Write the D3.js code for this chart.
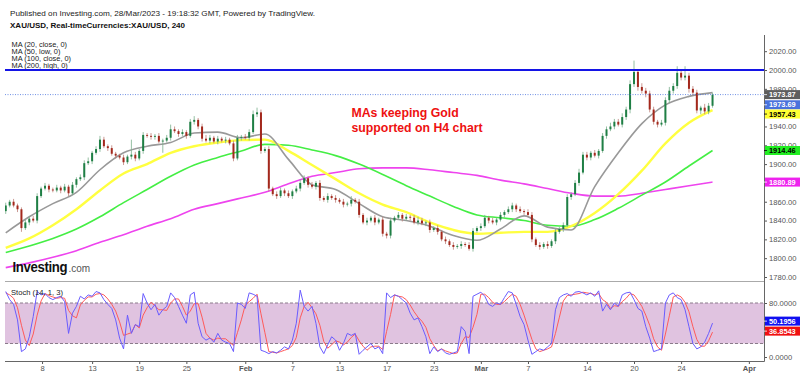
<!DOCTYPE html>
<html><head><meta charset="utf-8">
<script src="https://cdn.jsdelivr.net/npm/d3@7"></script>
<style>body{margin:0;background:#fff}svg{display:block;font-family:"Liberation Sans",Arial,sans-serif}</style>
</head><body><svg id="c" width="800" height="376"></svg>
<script>
// ---------------- DATA ----------------
const firstOpen = 1850;
const closes = [
1856,1860,1856,1852,1832,1838,1842,1840,1866,1874,
1877,1873,1872,1875,1872,1876,1869,1878,1884,1886,
1901,1903,1912,1916,1926,1919,1917,1911,1909,1907,
1902,1908,1910,1906,1914,1931,1930,1929,1930,1924,
1925,1928,1937,1935,1932,1934,1930,1945,1947,1940,
1927,1925,1928,1924,1927,1925,1926,1922,1906,1928,
1929,1928,1934,1953,1955,1914,1916,1874,1868,1866,
1872,1869,1866,1871,1874,1880,1885,1878,1876,1880,
1864,1862,1866,1864,1862,1860,1857,1858,1862,1860,
1846,1838,1840,1843,1838,1841,1826,1824,1840,1843,
1846,1842,1844,1843,1838,1840,1837,1838,1830,1832,
1828,1820,1818,1814,1812,1813,1815,1814,1810,1829,
1832,1834,1843,1840,1838,1841,1846,1849,1852,1856,
1852,1850,1849,1846,1820,1814,1812,1815,1813,1818,
1828,1831,1835,1865,1868,1880,1891,1910,1907,1912,
1909,1914,1930,1937,1940,1945,1942,1950,1958,1985,
1998,1982,1978,1975,1958,1945,1942,1944,1968,1978,
1983,1997,1992,1994,1980,1976,1957,1960,1956,1962,
1973.87];
const hiExt = [
3,2,3,2,2,3,2,3,3,2, 3,2,2,3,2,3,2,3,2,3, 3,4,2,3,4,3,2,3,2,2, 3,2,16,3,2,3,2,3,2,3,
2,3,5,3,2,3,2,3,4,2, 3,4,3,2,3,2,3,2,3,3, 2,3,3,4,5,3,2,3,2,3, 3,2,3,2,3,4,3,2,3,2,
3,2,3,2,3,2,3,2,4,2, 3,2,3,2,3,2,3,2,3,2, 3,2,3,2,3,4,3,2,3,2, 3,2,3,2,3,2,3,2,3,3,
2,3,3,2,3,2,3,2,3,3, 2,3,2,3,3,2,3,2,3,2, 3,2,3,3,2,3,4,3,3,2, 3,2,3,3,4,3,3,4,3,4,
12,3,4,3,3,3,2,3,3,4, 3,7,3,10,3,3,3,2,4,3, 2];
const loExt = [
3,2,2,3,4,2,3,2,3,2, 2,3,2,2,3,2,3,2,3,2, 3,2,3,2,3,2,3,2,3,2, 3,2,3,3,2,3,2,3,3,2,
12,2,3,2,3,2,3,2,3,3, 3,2,3,2,3,2,3,2,3,2, 3,2,3,2,3,3,2,3,2,3, 2,3,2,3,2,3,2,3,2,3,
3,2,3,2,3,2,3,2,3,2, 3,2,3,2,3,2,3,3,3,2, 2,3,2,3,2,3,2,3,3,2, 3,2,3,2,3,2,3,2,2,3,
2,3,2,3,2,3,2,3,2,3, 3,2,3,2,3,2,3,2,3,2, 3,2,3,2,3,2,3,2,3,3, 2,3,2,3,2,3,2,3,3,4,
3,4,3,4,3,3,3,2,3,3, 3,3,3,3,4,3,3,4,3,3, 2];
// moving averages, one value every 6 bars
const ma20 = [1827,1844,1858,1870,1894,1912,1919,1923,1933,1934,1928,1932,1905,1878,1873,1858,1844,1840,1834,1824,1819,1831,1845,1833,1830,1876,1912,1943,1963,1972,1976];
const ma50 = [1811,1821,1835,1852,1872,1890,1900,1912,1919,1923,1925.5,1926,1914,1899,1884,1869,1857,1849,1838,1830,1826,1827,1828,1828,1834,1848,1868,1893,1922,1944,1957.43];
const ma100 = [1806,1813,1821,1831,1844,1859,1873,1887,1899,1907,1914,1921,1920,1915,1909,1900,1889,1877,1866,1855,1846,1843,1840,1835,1834,1841,1853,1867,1881,1898,1914.46];
const ma200 = [1790,1795,1801,1808,1817,1825,1834,1842,1852,1858,1864,1870,1879,1887,1891,1895,1896,1896,1894,1891,1888,1883,1879,1874,1869,1866,1866,1869,1873,1877,1880.89];
const stochK = [
97,85,78,55,8,12,30,60,97,92, 94,88,85,88,90,82,35,65,75,90, 86,92,90,97,95,85,78,72,55,28,
12,62,35,48,45,94,80,70,78,62, 70,75,95,88,75,62,50,92,96,50, 30,25,28,22,35,25,22,20,8,80,
78,72,95,93,90,10,8,5,8,6, 10,15,12,25,50,99,75,68,75,50, 15,5,18,30,25,10,20,35,32,35,
4,10,15,20,12,15,5,95,88,92, 90,85,80,65,55,58,45,30,5,15, 8,12,6,4,6,8,45,38,5,90,
93,96,90,78,75,80,78,88,97,95, 78,60,48,25,4,8,12,10,15,20, 70,88,92,94,90,96,97,95,92,95,
90,98,68,78,70,80,75,92,95,96, 85,72,68,45,28,8,10,12,80,92, 95,88,85,70,45,20,12,15,22,35,
50.1956];
const stochD = [
95,92,87,73,47,25,17,34,62,83, 94,91,89,87,88,87,69,61,58,77, 84,89,89,93,94,92,86,78,68,52,
32,34,36,48,43,62,73,81,76,70, 70,69,80,86,86,75,62,68,79,79, 59,35,28,25,28,27,27,22,17,36,
55,77,82,87,93,64,36,8,7,6, 8,10,12,17,29,58,75,81,73,64, 47,23,13,18,24,22,18,22,29,34,
24,16,10,15,16,16,11,38,63,92, 90,89,85,77,67,59,53,44,27,17, 9,12,9,7,5,6,20,30,29,44,
63,93,93,88,81,78,78,82,88,93, 90,78,62,44,26,12,8,10,12,15, 35,59,83,91,92,93,94,96,95,94,
92,94,85,81,72,76,75,82,87,94, 92,84,75,62,47,27,15,10,34,61, 89,92,89,81,67,45,26,16,16,24,
36.8543];
const priceTicks = [2020,2000,1980,1960,1940,1920,1900,1880,1860,1840,1820,1800,1780];
const stochTicks = [80, 0];
const dateTickDates = ["2023-01-08","2023-01-13","2023-01-19","2023-01-25","2023-02-01","2023-02-07","2023-02-13","2023-02-17","2023-02-23","2023-03-01","2023-03-07","2023-03-14","2023-03-20","2023-03-24","2023-04-01"];
const dateTickLabels = ["8","13","19","25","Feb","7","13","17","23","Mar","7","14","20","24","Apr"];
const resistance = 2000;
const lastPrice = 1973.87;
const priceLabels = [
  {v:"1973.87", p:1973.87, bg:"#5e5e5e", fg:"#fff", dy:0},
  {v:"1973.69", p:1973.69, bg:"#4a72dc", fg:"#fff", dy:10},
  {v:"1957.43", p:1957.43, bg:"#ffff33", fg:"#000", dy:4},
  {v:"1914.46", p:1914.46, bg:"#22ee22", fg:"#000", dy:0},
  {v:"1880.89", p:1880.89, bg:"#ee22ee", fg:"#fff", dy:0}];
const stochLabels = [
  {v:"50.1956", p:50.1956, bg:"#1010f0", fg:"#fff", dy:-2},
  {v:"36.8543", p:36.8543, bg:"#f01010", fg:"#fff", dy:-1}];

// ---------------- LAYOUT ----------------
const svg = d3.select("#c");
const L = 5, R = 764;
const mainTop = 35, mainBot = 281, stTop = 282, stBot = 361;
const barsPerDay = 3, startDay = -10/3;
const barDay = i => startDay + i / barsPerDay;

function tradingIndex(s){
  const base = Date.UTC(2023,0,9);
  const t = Date.parse(s + "T00:00:00Z");
  const wd = new Date(t).getUTCDay();
  let adj = 0, tt = t;
  if (wd === 6) { tt += 2*864e5; adj = -0.25; }
  else if (wd === 0) { tt += 864e5; adj = -0.25; }
  let d = base, n = 0;
  while (d < tt) { const w = new Date(d).getUTCDay(); if (w !== 0 && w !== 6) n++; d += 864e5; }
  return n + adj;
}

const x = d3.scaleLinear().domain([0, 60]).range([45, 751.8]);
const y = d3.scaleLinear().domain([1780, 2020]).range([277, 51.2]);
const ys = d3.scaleLinear().domain([0, 80]).range([357, 303]);

const defs = svg.append("defs");
defs.append("clipPath").attr("id","cm").append("rect").attr("x",L).attr("y",mainTop).attr("width",R-L).attr("height",mainBot-mainTop);
defs.append("clipPath").attr("id","cs").append("rect").attr("x",L).attr("y",stTop).attr("width",R-L).attr("height",stBot-stTop);

// header texts
svg.append("text").attr("x",10).attr("y",15.5).attr("font-size",8).attr("fill","#222")
  .attr("textLength",305).attr("lengthAdjust","spacingAndGlyphs")
  .text("Published on Investing.com, 28/Mar/2023 - 19:18:32 GMT, Powered by TradingView.");
svg.append("text").attr("x",10).attr("y",27.5).attr("font-size",8).attr("font-weight","bold").attr("fill","#111")
  .attr("textLength",175).attr("lengthAdjust","spacingAndGlyphs")
  .text("XAU/USD, Real-timeCurrencies:XAU/USD, 240");
["MA (20, close, 0)","MA (50, low, 0)","MA (100, close, 0)","MA (200, high, 0)"].forEach((t,k)=>{
  svg.append("text").attr("x",11.5).attr("y",46.5 + k*7).attr("font-size",7.4).attr("fill","#222").text(t);
});

// main panel
const gm = svg.append("g").attr("clip-path","url(#cm)");
const maLine = d3.line().x(d=>x(barDay(d[0]))).y(d=>y(d[1])).curve(d3.curveMonotoneX);
const toPts = arr => arr.map((v,k)=>[k*6, v]);
gm.append("path").attr("d",maLine(toPts(ma200))).attr("fill","none").attr("stroke","#ee44ee").attr("stroke-width",1.6);
gm.append("path").attr("d",maLine(toPts(ma100))).attr("fill","none").attr("stroke","#44ee44").attr("stroke-width",1.6);
gm.append("path").attr("d",maLine(toPts(ma50))).attr("fill","none").attr("stroke","#ffff40").attr("stroke-width",2.4);
gm.append("path").attr("d",maLine(toPts(ma20))).attr("fill","none").attr("stroke","#999").attr("stroke-width",1.6);

// candles
const candles = closes.map((c,i)=>{
  const o = i === 0 ? firstOpen : closes[i-1];
  return {i, o, c, h: Math.max(o,c)+hiExt[i], l: Math.min(o,c)-loExt[i]};
});
const cg = gm.append("g");
cg.selectAll("line.w").data(candles).join("line")
  .attr("x1",d=>x(barDay(d.i))).attr("x2",d=>x(barDay(d.i)))
  .attr("y1",d=>y(d.h)).attr("y2",d=>y(d.l))
  .attr("stroke",d=>d.c>=d.o?"#7aae8c":"#bd8078").attr("stroke-width",0.8);
cg.selectAll("rect.b").data(candles).join("rect")
  .attr("x",d=>x(barDay(d.i))-1).attr("width",2)
  .attr("y",d=>y(Math.max(d.o,d.c))).attr("height",d=>Math.max(0.8, Math.abs(y(d.o)-y(d.c))))
  .attr("fill",d=>d.c>=d.o?"#1f7f45":"#a3281c");

// horizontal levels
svg.append("line").attr("x1",L).attr("x2",R).attr("y1",y(resistance)).attr("y2",y(resistance))
  .attr("stroke","#1414e6").attr("stroke-width",2);
svg.append("line").attr("x1",L).attr("x2",R).attr("y1",y(lastPrice)).attr("y2",y(lastPrice))
  .attr("stroke","#4a72dc").attr("stroke-width",0.8).attr("stroke-dasharray","1,1.5");

// annotation
svg.append("text").attr("x",351.5).attr("y",117).attr("font-size",12.3).attr("font-weight","bold").attr("fill","#ee1111").text("MAs keeping Gold");
svg.append("text").attr("x",351.5).attr("y",131.5).attr("font-size",12.3).attr("font-weight","bold").attr("fill","#ee1111").text("supported on H4 chart");

// logo (horizontally condensed wordmark)
svg.append("text").attr("transform","translate(12.5,272) scale(0.91,1)").attr("font-size",14.5).attr("font-weight","bold")
  .attr("fill","#111").attr("letter-spacing",-0.4).text("Investing");
svg.append("text").attr("x",68.5).attr("y",272).attr("font-size",10).attr("fill","#555").text(".com");

// separator
svg.append("line").attr("x1",L).attr("x2",R).attr("y1",281.5).attr("y2",281.5).attr("stroke","#aaa").attr("stroke-width",1);

// stoch panel
svg.append("rect").attr("x",L).attr("width",R-L).attr("y",ys(80)).attr("height",ys(20)-ys(80)).attr("fill","#e0c3e0");
[80,20].forEach(v=>svg.append("line").attr("x1",L).attr("x2",R).attr("y1",ys(v)).attr("y2",ys(v))
  .attr("stroke","#8a7a8a").attr("stroke-width",1).attr("stroke-dasharray","3,2"));
const gs = svg.append("g").attr("clip-path","url(#cs)");
const stLine = d3.line().x((d,i)=>x(barDay(i))).y(d=>ys(d));
gs.append("path").attr("d",stLine(stochD)).attr("fill","none").attr("stroke","#ff5a5a").attr("stroke-width",1);
gs.append("path").attr("d",stLine(stochK)).attr("fill","none").attr("stroke","#6a5cff").attr("stroke-width",1);
svg.append("text").attr("x",11).attr("y",294.5).attr("font-size",7.6).attr("fill","#222").text("Stoch (14, 1, 3)");

// axes (tick labels hidden where a value tag fully covers them, as in the reference)
const tagYs = priceLabels.map(l=>y(l.p)+l.dy);
const axR = d3.axisRight(y).tickValues(priceTicks).tickSize(3).tickPadding(2)
  .tickFormat(d=> tagYs.some(t=>Math.abs(t-y(d))<4.5) ? "" : d.toFixed(2));
const gR = svg.append("g").attr("transform",`translate(${R},0)`).call(axR);
gR.select(".domain").remove();
gR.selectAll("text").attr("font-size",7.6).attr("fill","#555").attr("font-family","Liberation Sans, Arial, sans-serif");
gR.selectAll("line").attr("stroke","#555");
const axS = d3.axisRight(ys).tickValues(stochTicks).tickSize(3).tickPadding(2).tickFormat(d=>d.toFixed(4));
const gS = svg.append("g").attr("transform",`translate(${R},0)`).call(axS);
gS.select(".domain").remove();
gS.selectAll("text").attr("font-size",7.6).attr("fill","#555").attr("font-family","Liberation Sans, Arial, sans-serif");
gS.selectAll("line").attr("stroke","#555");
svg.append("line").attr("x1",R+0.5).attr("x2",R+0.5).attr("y1",35).attr("y2",361.5).attr("stroke","#666").attr("stroke-width",1);

const tickPos = dateTickDates.map(tradingIndex);
const axB = d3.axisBottom(x).tickValues(tickPos).tickSize(3).tickPadding(1.5).tickFormat((d,i)=>dateTickLabels[i]);
const gB = svg.append("g").attr("transform",`translate(0,${stBot})`).call(axB);
gB.select(".domain").remove();
gB.selectAll("text").attr("font-size",7.6).attr("fill","#555").attr("font-family","Liberation Sans, Arial, sans-serif")
  .attr("font-weight",(d,i)=>/^[A-Z]/.test(dateTickLabels[i])?"bold":"normal");
gB.selectAll("line").attr("stroke","#555");
svg.append("line").attr("x1",L).attr("x2",R+0.5).attr("y1",stBot+0.5).attr("y2",stBot+0.5).attr("stroke","#666");

// value tags
function tag(lbl, sc){
  const cy = sc(lbl.p) + lbl.dy;
  const g = svg.append("g");
  g.append("rect").attr("x",R+1).attr("y",cy-4.5).attr("width",35).attr("height",9).attr("fill",lbl.bg);
  g.append("line").attr("x1",R).attr("x2",R+3).attr("y1",cy).attr("y2",cy).attr("stroke",lbl.fg==="#000"?"#000":"#fff").attr("stroke-width",0.8);
  g.append("text").attr("x",R+5).attr("y",cy+2.7).attr("font-size",7.4).attr("font-weight","bold").attr("fill",lbl.fg).text(lbl.v);
}
priceLabels.forEach(l=>tag(l,y));
stochLabels.forEach(l=>tag(l,ys));
</script></body></html>
